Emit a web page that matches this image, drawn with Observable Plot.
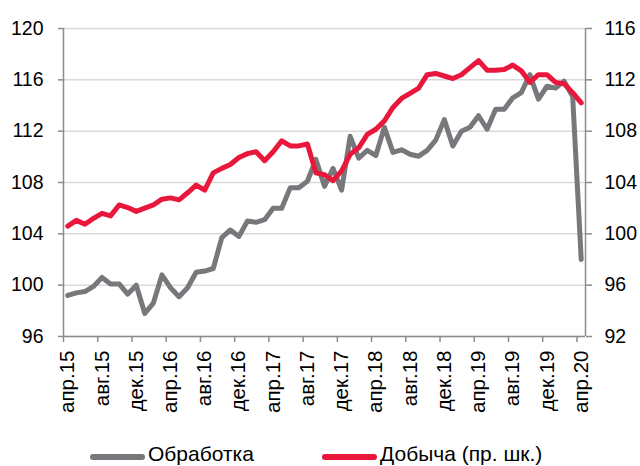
<!DOCTYPE html>
<html>
<head>
<meta charset="utf-8">
<script src="https://cdn.jsdelivr.net/npm/d3@7"></script>
<script src="https://cdn.jsdelivr.net/npm/@observablehq/plot@0.6"></script>
<style>
  body { margin: 0; background: #fff; font-family: "Liberation Sans", Arial, sans-serif; }
  #legend { position: relative; width: 640px; height: 36px; font-size: 21px; color: #000; }
  .sw { position: absolute; height: 6px; border-radius: 3px; width: 55px; }
  .lt { position: absolute; line-height: 1; white-space: nowrap; }
</style>
</head>
<body>
<div id="chart"></div>
<div id="legend"></div>
<script>
// Monthly index, Apr 2015 .. Apr 2020
const tickLabels = ["апр.15","авг.15","дек.15","апр.16","авг.16","дек.16","апр.17","авг.17","дек.17","апр.18","авг.18","дек.18","апр.19","авг.19","дек.19","апр.20"];

// Обработка (left axis)
const obrabotka = [
  99.2, 99.4, 99.5, 99.9, 100.6, 100.1, 100.1, 99.3, 100.0, 97.8,
  98.6, 100.8, 99.8, 99.1, 99.8, 101.0, 101.1, 101.3, 103.7, 104.3,
  103.8, 105.0, 104.9, 105.1, 106.0, 106.0, 107.6, 107.6, 108.1, 109.8,
  107.7, 109.1, 107.4, 111.6, 109.9, 110.5, 110.1, 112.3, 110.35, 110.55,
  110.2, 110.05, 110.5, 111.3, 112.9, 110.85, 112.0, 112.3, 113.2, 112.15,
  113.7, 113.7, 114.6, 115.0, 116.4, 114.5, 115.5, 115.35, 115.9, 114.7,
  102.0
];

// Добыча (right axis)
const dobycha = [
  100.6, 101.05, 100.75, 101.2, 101.6, 101.4, 102.25, 102.05, 101.75, 102.0,
  102.25, 102.7, 102.8, 102.65, 103.2, 103.8, 103.4, 104.75, 105.1, 105.4,
  105.95, 106.25, 106.4, 105.7, 106.4, 107.25, 106.85, 106.85, 107.0, 104.75,
  104.6, 104.15, 104.9, 106.2, 106.7, 107.75, 108.15, 108.8, 109.85, 110.55,
  110.95, 111.35, 112.4, 112.5, 112.3, 112.1, 112.4, 112.95, 113.5, 112.75,
  112.75, 112.8, 113.15, 112.7, 111.8, 112.4, 112.4, 111.8, 111.7, 111.0,
  110.2
];

const leftTicks = [96, 100, 104, 108, 112, 116, 120];
const rightOffset = 4; // right axis = left axis - 4

const n = obrabotka.length;
const idx = d3.range(n);
const labelPos = d3.range(0, n, 4);
const tickMarkPos = labelPos.map(i => i - 0.5);

const grayData = idx.map(i => ({i, v: obrabotka[i]}));
const redData = idx.map(i => ({i, v: dobycha[i] + rightOffset}));

const GRAY = "#77787b";
const RED = "#e9173c";
const AXIS = "#8c8c8c";
const GRID = "#d9d9d9";

const chart = Plot.plot({
  width: 640,
  height: 430,
  marginLeft: 63,
  marginRight: 55,
  marginTop: 28,
  marginBottom: 94,
  style: {fontFamily: "Liberation Sans, Arial, sans-serif", fontSize: "19px", background: "#fff"},
  x: {domain: [-0.5, n - 0.5], axis: null},
  y: {domain: [96, 120], axis: null},
  marks: [
    Plot.ruleY(leftTicks, {stroke: GRID, strokeWidth: 1.5}),
    Plot.ruleX([-0.5, n - 0.5], {stroke: AXIS, strokeWidth: 1.5}),
    Plot.ruleY([96], {stroke: AXIS, strokeWidth: 1.5}),
    Plot.axisY({ticks: leftTicks, anchor: "left", tickSize: 5, tickPadding: 15, stroke: AXIS, strokeWidth: 1.5, fill: "#000", fontSize: 19.5, label: null}),
    Plot.axisY({ticks: leftTicks, anchor: "right", tickSize: 6, tickPadding: 13, stroke: AXIS, strokeWidth: 1.5, fill: "#000", fontSize: 19.5, tickFormat: d => d - rightOffset, label: null}),
    Plot.axisX({ticks: tickMarkPos, anchor: "bottom", tickSize: 6, stroke: AXIS, strokeWidth: 1.5, tickFormat: () => "", label: null}),
    Plot.axisX({ticks: labelPos, anchor: "bottom", tickSize: 0, tickPadding: 14, tickRotate: -90, fill: "#000", fontSize: 20.5, tickFormat: d => tickLabels[d / 4], label: null}),
    Plot.line(grayData, {x: "i", y: "v", stroke: GRAY, strokeWidth: 5, strokeLinejoin: "round", strokeLinecap: "round"}),
    Plot.line(redData, {x: "i", y: "v", stroke: RED, strokeWidth: 5, strokeLinejoin: "round", strokeLinecap: "round"})
  ]
});
document.getElementById("chart").appendChild(chart);

const legendItems = [
  {label: "Обработка", color: GRAY, x: 90},
  {label: "Добыча (пр. шк.)", color: RED, x: 322}
];
const legend = document.getElementById("legend");
for (const it of legendItems) {
  const sw = document.createElement("div");
  sw.className = "sw";
  sw.style.left = it.x + "px";
  sw.style.top = "24px";
  sw.style.background = it.color;
  legend.appendChild(sw);
  const t = document.createElement("div");
  t.className = "lt";
  t.style.left = (it.x + 58) + "px";
  t.style.top = "13px";
  t.textContent = it.label;
  legend.appendChild(t);
}
</script>
</body>
</html>
